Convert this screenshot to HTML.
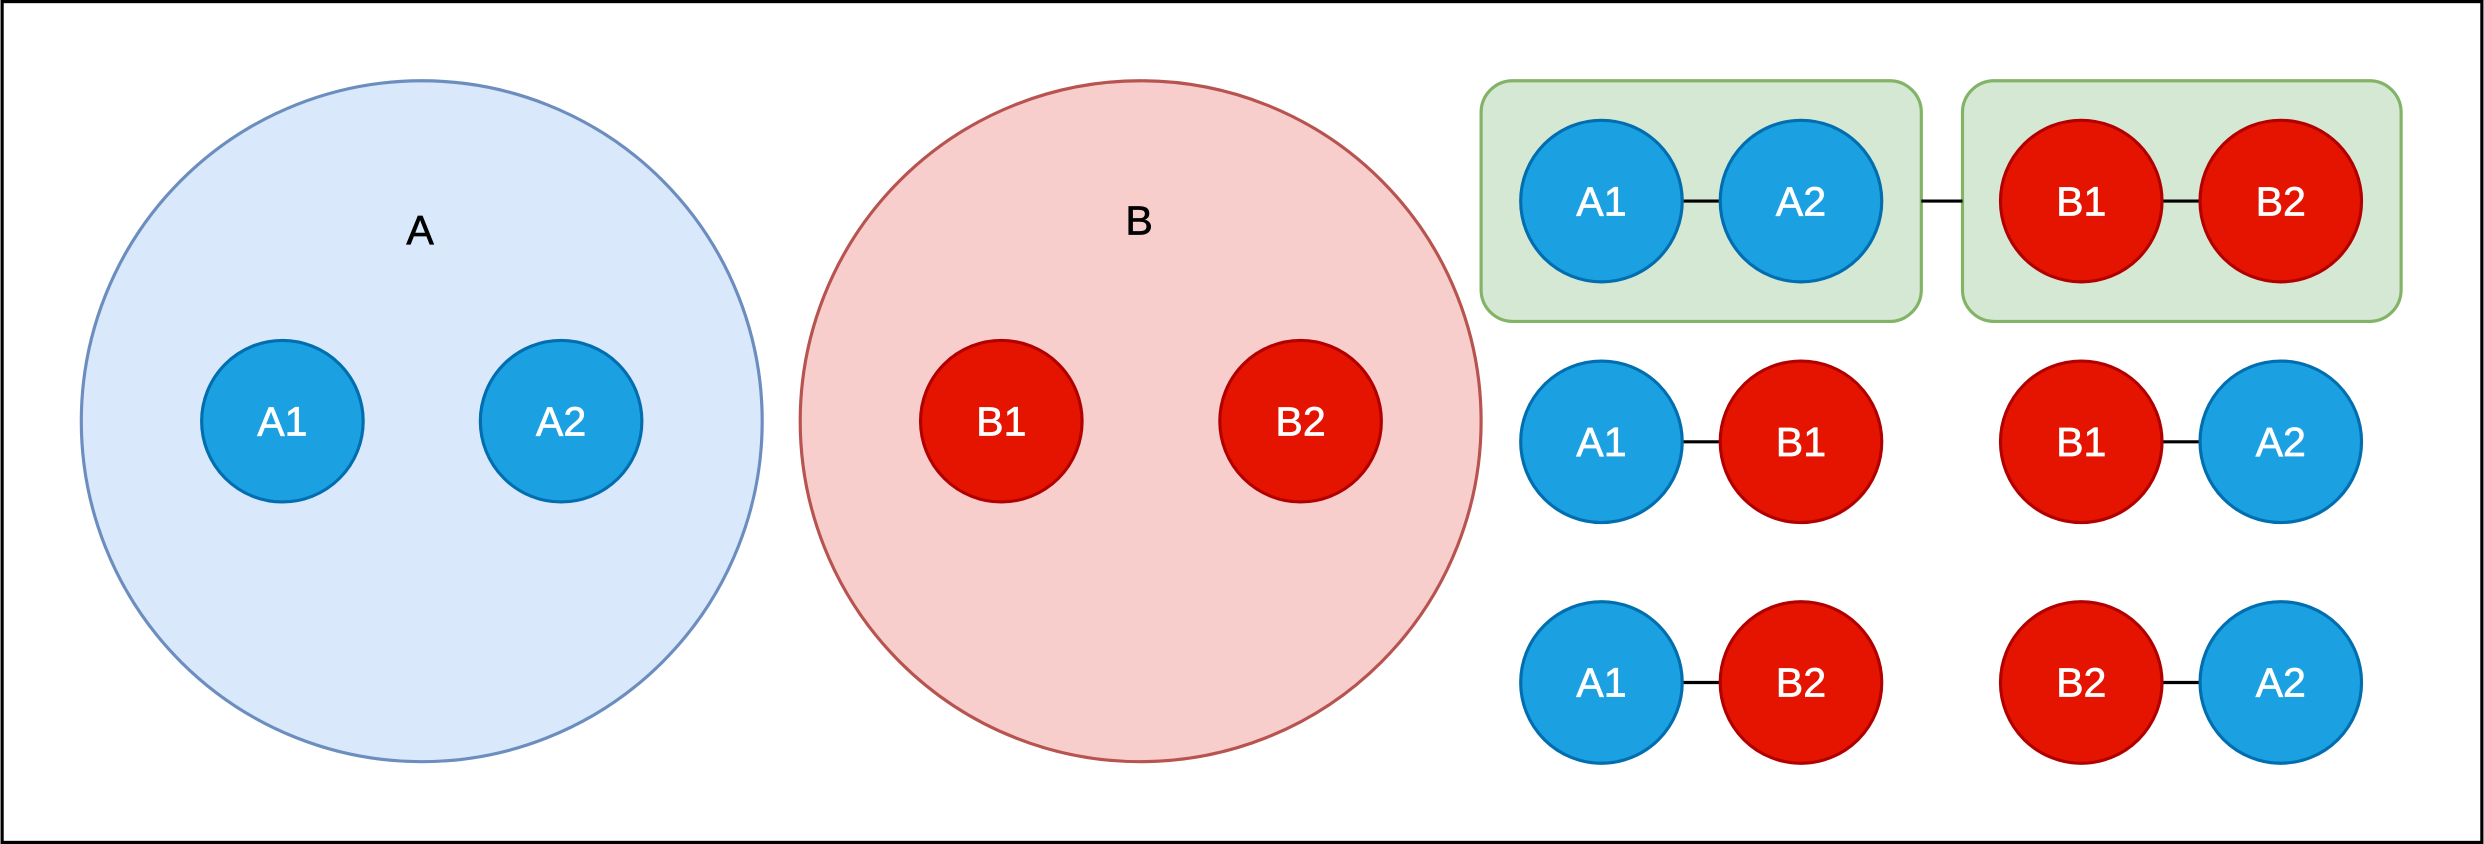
<!DOCTYPE html>
<html>
<head>
<meta charset="utf-8">
<style>
html,body{margin:0;padding:0;background:#fff;}
svg{display:block;}
text{font-family:"Liberation Sans",sans-serif;}
</style>
</head>
<body>
<svg width="2484" height="844" viewBox="0 0 1568 533" xmlns="http://www.w3.org/2000/svg">
  <rect x="1" y="1" width="1566" height="531" fill="#fff" stroke="#000" stroke-width="2"/>

  <g>
    <circle cx="266" cy="266" r="215" fill="#dae8fc" stroke="#6c8ebf" stroke-width="2"/>
    <text x="265" y="154" font-size="26" text-anchor="middle" stroke="#000" stroke-width="0.4">A</text>
  </g>
  <g>
    <circle cx="720" cy="266" r="215" fill="#f8cecc" stroke="#b85450" stroke-width="2"/>
    <text x="719" y="148" font-size="26" text-anchor="middle" stroke="#000" stroke-width="0.4">B</text>
  </g>

  <rect x="935" y="51" width="278" height="152" rx="20" fill="#d5e8d4" stroke="#82b366" stroke-width="2"/>
  <rect x="1239" y="51" width="277" height="152" rx="20" fill="#d5e8d4" stroke="#82b366" stroke-width="2"/>

  <g stroke="#000" stroke-width="2">
    <line x1="1062" y1="127" x2="1086" y2="127"/>
    <line x1="1213" y1="127" x2="1239" y2="127"/>
    <line x1="1365" y1="127" x2="1389" y2="127"/>
    <line x1="1062" y1="279" x2="1086" y2="279"/>
    <line x1="1365" y1="279" x2="1389" y2="279"/>
    <line x1="1062" y1="431" x2="1086" y2="431"/>
    <line x1="1365" y1="431" x2="1389" y2="431"/>
  </g>

  <g id="nodes"></g>
</svg>
<script>
const nodeLabels = ["A1","A2","B1","B2","A1","A2","B1","B2","A1","B1","B1","A2","A1","B2","B2","A2"];
const nodeX = [178,354,632,821,1011,1137,1314,1440,1011,1137,1314,1440,1011,1137,1314,1440];
const nodeY = [266,266,266,266,127,127,127,127,279,279,279,279,431,431,431,431];
const ns = "http://www.w3.org/2000/svg";
const g = document.getElementById("nodes");
nodeLabels.forEach((lab, i) => {
  const blue = lab[0] === "A";
  const grp = document.createElementNS(ns, "g");
  
  
  const c = document.createElementNS(ns, "circle");
  c.setAttribute("cx", nodeX[i]); c.setAttribute("cy", nodeY[i]); c.setAttribute("r", 51);
  c.setAttribute("fill", blue ? "#1ba1e2" : "#e51400");
  c.setAttribute("stroke", blue ? "#006eaf" : "#b20000");
  c.setAttribute("stroke-width", 2);
  
  
  const t = document.createElementNS(ns, "text");
  t.setAttribute("x", nodeX[i]); t.setAttribute("y", nodeY[i] + 9);
  t.setAttribute("font-size", 26); t.setAttribute("fill", "#fff");
  t.setAttribute("stroke", "#fff"); t.setAttribute("stroke-width", 0.4);
  t.setAttribute("text-anchor", "middle");
  t.textContent = lab;
  
  
  grp.appendChild(c); grp.appendChild(t); g.appendChild(grp);
});
</script>
</body>
</html>
